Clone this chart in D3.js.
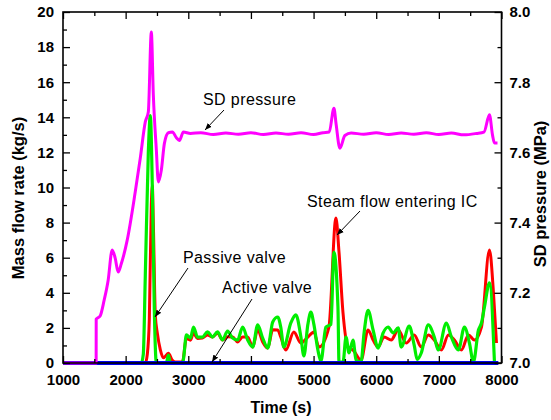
<!DOCTYPE html>
<html>
<head>
<meta charset="utf-8">
<script src="https://cdn.jsdelivr.net/npm/d3@7"></script>
<style>
  body { margin: 0; background: #fff; }
  svg { font-family: "Liberation Sans", Arial, sans-serif; }
</style>
</head>
<body>
<svg width="551" height="420"></svg>
<script>
// steam flow entering IC (kg/s)
const redTime = [1000, 2314, 2346, 2378, 2410, 2426, 2442, 2474, 2506, 2554, 2602, 2682, 2746, 2794, 2906,
  2970, 3035, 3083, 3147, 3227, 3307, 3387, 3467, 3547, 3627, 3707, 3787, 3868, 3948, 4028, 4108, 4188,
  4268, 4348, 4428, 4476, 4556, 4685, 4797, 4909, 5005, 5085, 5245, 5357, 5406, 5470, 5550, 5630, 5758,
  5870, 5950, 6030, 6126, 6239, 6351, 6479, 6607, 6719, 6831, 6927, 7040, 7152, 7248, 7360, 7472, 7568,
  7680, 7808, 7872, 7920];
const redFlow = [0, 0, 0.5, 2.5, 9, 10.1, 8, 2.7, 1.7, 0.75, 0.3, 0.55, 0.15, 0.05, 0.05,
  1.4, 1.3, 1.7, 1.4, 1.42, 1.6, 1.48, 1.7, 1.31, 1.5, 1.48, 1.2, 1.48, 1.48, 0.91, 1.9, 1.2,
  0.85, 1.9, 1.88, 1.48, 0.74, 1.77, 1.14, 1.48, 1.77, 0.91, 2.05, 8.26, 6.32, 2.85, 0.91, 0.74, 0.17,
  1.88, 1.31, 0.91, 1.48, 1.31, 1.88, 1.14, 1.6, 0.91, 1.6, 1.31, 0.74, 1.6, 1.31, 0.74, 1.6, 1.31,
  2.05, 6.44, 3.99, 1.14];

// passive valve (kg/s)
const greenTime = [1000, 2250, 2282, 2314, 2362, 2394, 2426, 2458, 2490, 2650, 2682, 2714, 2906, 2922,
  2970, 3035, 3083, 3147, 3227, 3307, 3387, 3467, 3547, 3627, 3707, 3787, 3868, 3948, 4028, 4108, 4188,
  4268, 4348, 4428, 4476, 4524, 4637, 4717, 4797, 4845, 4909, 4957, 5005, 5069, 5117, 5197, 5277, 5325,
  5389, 5406, 5470, 5518, 5566, 5630, 5678, 5758, 5806, 5870, 5950, 6030, 6110, 6191, 6271, 6351, 6399,
  6527, 6607, 6655, 6719, 6831, 6927, 6991, 7120, 7200, 7312, 7408, 7488, 7552, 7632, 7680, 7728, 7808,
  7888];
const greenFlow = [0, 0, 0.5, 5, 12, 14.1, 10, 3, 0, 0, 0.45, 0, 0, 0.2,
  1.6, 1.42, 2.05, 1.48, 1.48, 1.77, 1.48, 1.77, 1.31, 1.82, 1.42, 1.31, 2.05, 1.31, 0.91, 2.17, 1.42,
  0.85, 2.34, 2.62, 2.05, 0.91, 2.28, 2.74, 1.5, 0.4, 2.2, 2.9, 2.2, 0.74, 0.1, 2.05, 2.2, 6.3,
  3.2, 0.05, 0.05, 1.48, 0.57, 1.31, 0.17, 0.06, 1.71, 3.0, 1.88, 0.85, 1.71, 2.05, 1.71, 2.0, 0.91,
  2.1, 1.0, 0.2, 0.57, 2.17, 1.48, 0.74, 2.28, 1.48, 0.74, 2.05, 1.14, 0.06, 1.88, 2.28, 3.19, 4.56,
  0];

// active valve (kg/s)
const blueTime = [1000, 7950];
const blueFlow = [0, 0];

// SD pressure (MPa)
const sdTime = [1000, 1529, 1530, 1593, 1657, 1721, 1785, 1833, 1881, 1929, 2025, 2153, 2234, 2314, 2362,
  2410, 2442, 2490, 2522, 2570, 2618, 2682, 2746, 2810, 2858, 2922, 3035, 3200, 3400, 3600, 3800, 4000,
  4200, 4400, 4600, 4800, 5000, 5150, 5250, 5325, 5360, 5420, 5500, 5600, 5800, 6000, 6200, 6400, 6600,
  6800, 7000, 7200, 7400, 7600, 7720, 7808, 7856, 7888, 7936];
const sdPress = [7.0, 7.0, 7.125, 7.134, 7.179, 7.236, 7.322, 7.299, 7.259, 7.282, 7.35, 7.487, 7.584, 7.687, 7.715,
  7.943, 7.764, 7.607, 7.516, 7.55, 7.625, 7.656, 7.658, 7.642, 7.634, 7.658, 7.654, 7.656, 7.651, 7.655, 7.652, 7.656,
  7.651, 7.655, 7.652, 7.656, 7.651, 7.656, 7.658, 7.726, 7.68, 7.612, 7.648, 7.655, 7.652, 7.656, 7.651, 7.655, 7.652,
  7.656, 7.651, 7.655, 7.65, 7.654, 7.658, 7.707, 7.65, 7.627, 7.627];

const xMajor = [1000, 2000, 3000, 4000, 5000, 6000, 7000, 8000];
const xMinor = [1500, 2500, 3500, 4500, 5500, 6500, 7500];
const leftMajor = [0, 2, 4, 6, 8, 10, 12, 14, 16, 18, 20];
const leftMinor = [1, 3, 5, 7, 9, 11, 13, 15, 17, 19];
const rightMajor = [7.0, 7.2, 7.4, 7.6, 7.8, 8.0];
const rightMinor = [7.1, 7.3, 7.5, 7.7, 7.9];

const svg = d3.select('svg');
const mLeft = 63, mRight = 501.5, mTop = 12, mBottom = 363;

const x = d3.scaleLinear().domain([1000, 8000]).range([mLeft, mRight]);
const yL = d3.scaleLinear().domain([0, 20]).range([mBottom, mTop]);
const yR = d3.scaleLinear().domain([7.0, 8.0]).range([mBottom, mTop]);

const defs = svg.append('defs');
defs.append('clipPath').attr('id', 'clip')
  .append('rect').attr('x', mLeft).attr('y', mTop - 2).attr('width', mRight - mLeft).attr('height', mBottom - mTop + 4);
defs.append('marker')
  .attr('id', 'arrow')
  .attr('viewBox', '0 0 10 10')
  .attr('refX', 10).attr('refY', 5)
  .attr('markerWidth', 7).attr('markerHeight', 7)
  .attr('markerUnits', 'userSpaceOnUse')
  .attr('orient', 'auto')
  .append('path').attr('d', 'M0,1L10,5L0,9Z').attr('fill', '#000');

const plot = svg.append('g').attr('clip-path', 'url(#clip)');

const flowLine = d3.line()
  .x(d => x(d[0]))
  .y(d => yL(d[1]))
  .curve(d3.curveMonotoneX);
const pressLine = d3.line()
  .x(d => x(d[0]))
  .y(d => yR(d[1]))
  .curve(d3.curveMonotoneX);

const series = [
  { t: redTime, v: redFlow, color: '#ff0000', w: 3 },
  { t: greenTime, v: greenFlow, color: '#00ee00', w: 3.2 },
  { t: blueTime, v: blueFlow, color: '#0000ee', w: 4 }
];
series.forEach(s => {
  plot.append('path')
    .datum(d3.zip(s.t, s.v))
    .attr('fill', 'none')
    .attr('stroke', s.color)
    .attr('stroke-width', s.w)
    .attr('stroke-linejoin', 'round')
    .attr('d', flowLine);
});
plot.append('path')
  .datum(d3.zip(sdTime, sdPress))
  .attr('fill', 'none')
  .attr('stroke', '#ff00ff')
  .attr('stroke-width', 3)
  .attr('stroke-linejoin', 'round')
  .attr('d', pressLine);

// axes
const tickFont = g => g.selectAll('text')
  .attr('font-size', 15).attr('font-weight', 'bold').attr('fill', '#000')
  .attr('font-family', '"Liberation Sans", Arial, sans-serif');

svg.append('g').attr('transform', `translate(0,${mBottom})`)
  .call(d3.axisBottom(x).tickValues(xMajor).tickSize(-7).tickSizeOuter(0).tickPadding(11).tickFormat(d3.format('d')))
  .call(tickFont);
svg.append('g').attr('transform', `translate(0,${mBottom})`)
  .call(d3.axisBottom(x).tickValues(xMinor).tickSize(-4).tickSizeOuter(0).tickFormat(''));
svg.append('g').attr('transform', `translate(0,${mTop})`)
  .call(d3.axisTop(x).tickValues(xMajor).tickSize(-7).tickSizeOuter(0).tickFormat(''));
svg.append('g').attr('transform', `translate(0,${mTop})`)
  .call(d3.axisTop(x).tickValues(xMinor).tickSize(-4).tickSizeOuter(0).tickFormat(''));

svg.append('g').attr('transform', `translate(${mLeft},0)`)
  .call(d3.axisLeft(yL).tickValues(leftMajor).tickSize(-7).tickSizeOuter(0).tickPadding(9))
  .call(tickFont);
svg.append('g').attr('transform', `translate(${mLeft},0)`)
  .call(d3.axisLeft(yL).tickValues(leftMinor).tickSize(-4).tickSizeOuter(0).tickFormat(''));

svg.append('g').attr('transform', `translate(${mRight},0)`)
  .call(d3.axisRight(yR).tickValues(rightMajor).tickSize(-7).tickSizeOuter(0).tickPadding(8).tickFormat(d3.format('.1f')))
  .call(tickFont);
svg.append('g').attr('transform', `translate(${mRight},0)`)
  .call(d3.axisRight(yR).tickValues(rightMinor).tickSize(-4).tickSizeOuter(0).tickFormat(''));

svg.selectAll('.tick line').attr('stroke', '#000').attr('stroke-width', 1.3);
svg.selectAll('.domain').remove();

svg.append('rect')
  .attr('x', mLeft).attr('y', mTop)
  .attr('width', mRight - mLeft).attr('height', mBottom - mTop)
  .attr('fill', 'none').attr('stroke', '#000').attr('stroke-width', 1.6);

// axis titles
svg.append('text')
  .attr('x', 281).attr('y', 413)
  .attr('text-anchor', 'middle')
  .attr('font-size', 16).attr('font-weight', 'bold')
  .text('Time (s)');
svg.append('text')
  .attr('transform', 'translate(24,198) rotate(-90)')
  .attr('text-anchor', 'middle')
  .attr('font-size', 16.5).attr('font-weight', 'bold')
  .text('Mass flow rate (kg/s)');
svg.append('text')
  .attr('transform', 'translate(546,194) rotate(-90)')
  .attr('text-anchor', 'middle')
  .attr('font-size', 16.5).attr('font-weight', 'bold')
  .text('SD pressure (MPa)');

// annotations
const notes = [
  { text: 'SD pressure', tx: 203, ty: 105, from: [224, 110], to: [205, 130] },
  { text: 'Passive valve', tx: 183, ty: 263, from: [188, 268], to: [155, 317] },
  { text: 'Active valve', tx: 222, ty: 293, from: [252, 299], to: [212, 362] },
  { text: 'Steam flow entering IC', tx: 307, ty: 207, from: [360, 211], to: [337, 235] }
];
notes.forEach(n => {
  svg.append('text')
    .attr('x', n.tx).attr('y', n.ty)
    .attr('font-size', 16)
    .attr('letter-spacing', 0.4)
    .text(n.text);
  svg.append('line')
    .attr('x1', n.from[0]).attr('y1', n.from[1])
    .attr('x2', n.to[0]).attr('y2', n.to[1])
    .attr('stroke', '#000').attr('stroke-width', 1)
    .attr('marker-end', 'url(#arrow)');
});
</script>
</body>
</html>
